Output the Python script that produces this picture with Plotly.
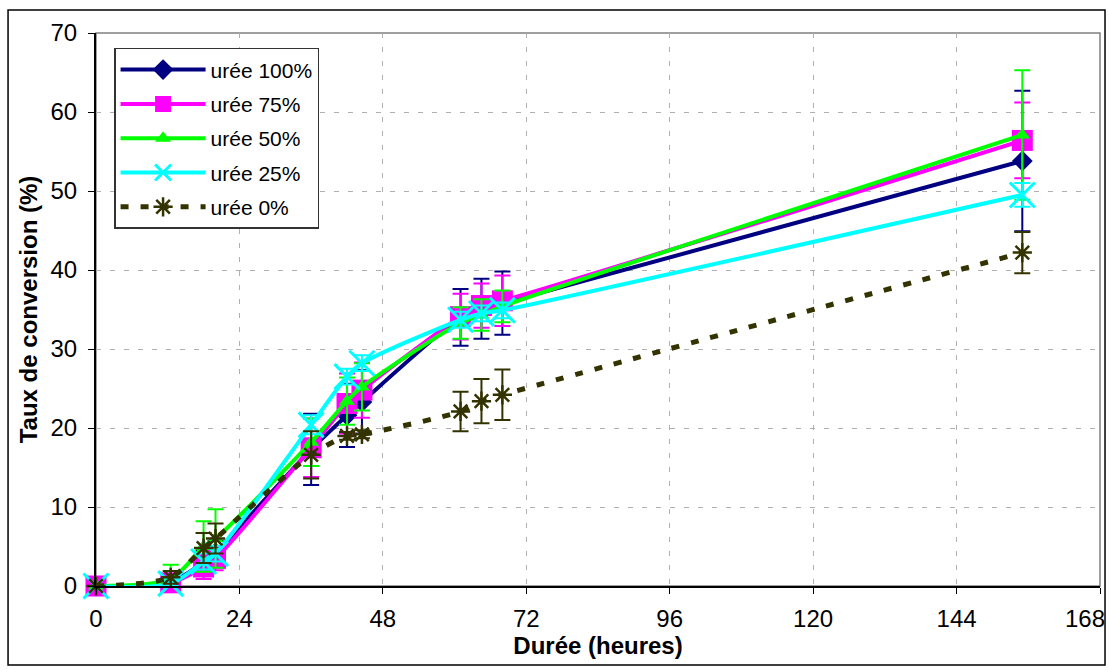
import plotly.graph_objects as go

hours = [0, 12.5, 18, 20, 36, 42, 44.5, 61, 64.5, 68, 155]

uree100 = [0, 0.5, 3.0, 4.2, 17.3, 21.6, 23.3, 34.0, 35.1, 35.8, 53.8]
err100 = [0, 0.5, 1.5, 1.5, 4.5, 4.0, 4.0, 3.6, 3.8, 4.0, 8.9]

uree75 = [0, 0.4, 2.4, 3.5, 17.5, 23.1, 24.8, 34.1, 35.5, 36.1, 56.4]
err75 = [0, 0.5, 1.5, 1.5, 3.7, 3.8, 3.5, 2.9, 2.8, 3.2, 4.8]

uree50 = [0, 0.9, 5.0, 6.0, 18.2, 23.4, 25.2, 33.3, 34.3, 35.4, 57.1]
err50 = [0, 1.8, 3.2, 3.7, 3.0, 3.0, 3.0, 2.0, 2.0, 2.0, 8.2]

uree25 = [0, 0.3, 3.1, 4.1, 20.4, 26.5, 28.2, 33.7, 34.5, 34.9, 49.5]
err25 = [0, 0.3, 1.0, 1.0, 1.2, 1.0, 1.0, 1.0, 1.0, 1.0, 1.5]

uree0 = [0, 1.1, 4.8, 6.0, 16.6, 19.0, 19.2, 22.1, 23.4, 24.2, 42.2]
err0 = [0, 0.8, 1.9, 1.9, 3.0, 0.5, 0.5, 2.5, 2.8, 3.2, 2.6]

x_ticks = [0, 24, 48, 72, 96, 120, 144, 168]
x_ticktext = ["0", "24", "48", "72", "96", "120", "144", ""]
last_x_label = "168"
y_ticks = [0, 10, 20, 30, 40, 50, 60, 70]

names = ["urée 100%", "urée 75%", "urée 50%", "urée 25%", "urée 0%"]

FONT = "Liberation Sans, Arial, sans-serif"

fig = go.Figure()

series = [
    (names[0], uree100, err100, "#000080", "diamond", 16, 0),
    (names[1], uree75, err75, "#FF00FF", "square", 21, 0),
    (names[2], uree50, err50, "#00FF00", "triangle-up", 14, 0),
    (names[3], uree25, err25, "#00FFFF", "x-thin-open", 25, 3),
]

for i, (name, vals, errs, color, sym, size, mlw) in enumerate(series):
    fig.add_trace(go.Scatter(
        x=hours, y=vals, name=name, mode="lines+markers", legendgroup=f"g{i}",
        line=dict(color=color, width=4, shape="spline", smoothing=0.8),
        marker=dict(symbol=sym, size=size, color=color,
                    line=dict(color=color, width=mlw)),
        error_y=dict(type="data", array=errs, visible=True, color=color,
                     thickness=2, width=8),
        cliponaxis=False,
    ))

olive = "#333300"
fig.add_trace(go.Scatter(
    x=hours, y=uree0, name=names[4], mode="lines+markers", legendgroup="g4",
    line=dict(color=olive, width=5, dash="8px,12px", shape="spline", smoothing=0.8),
    marker=dict(symbol="asterisk-open", size=16, color=olive,
                line=dict(color=olive, width=2.5)),
    error_y=dict(type="data", array=err0, visible=True, color=olive,
                 thickness=2, width=8),
    cliponaxis=False,
))

# last x tick label, kept inside the page like the original
fig.add_annotation(text=last_x_label, xref="paper", yref="paper",
                   x=1.007, y=-0.0585, xanchor="right", yanchor="middle",
                   showarrow=False, font=dict(family=FONT, size=24, color="black"))

# outer chart border
fig.add_shape(type="rect", xref="paper", yref="paper",
              x0=-0.0876, x1=1.005, y0=-0.1429, y1=1.0416,
              line=dict(color="black", width=1.5), layer="below")
# plot-area border (gray)
fig.add_shape(type="rect", xref="paper", yref="paper",
              x0=0, x1=1, y0=0, y1=1,
              line=dict(color="#808080", width=1.5), layer="below")

fig.update_layout(
    width=1109, height=670,
    margin=dict(l=96, r=9, t=33, b=84),
    paper_bgcolor="white", plot_bgcolor="white",
    font=dict(family=FONT, color="black", size=24),
    showlegend=True,
    legend=dict(
        x=0.018, y=0.973, xanchor="left", yanchor="top",
        bgcolor="white", bordercolor="#333333", borderwidth=1.5,
        font=dict(family=FONT, size=21, color="black"),
        itemwidth=85, tracegroupgap=4,
    ),
    xaxis=dict(
        range=[0, 168], tickvals=x_ticks, ticktext=x_ticktext,
        automargin=False,
        showgrid=True, gridcolor="#b0b0b0", griddash="5px,9px", gridwidth=1,
        showline=True, linecolor="black", linewidth=2,
        ticks="outside", ticklen=6, tickcolor="black", tickwidth=1,
        ticklabelstandoff=4,
        zeroline=False,
        tickfont=dict(family=FONT, size=24),
        title=dict(text="<b>Durée (heures)</b>", font=dict(family=FONT, size=24), standoff=2),
    ),
    yaxis=dict(
        range=[0, 70], tickvals=y_ticks, automargin=False,
        showgrid=True, gridcolor="#b0b0b0", griddash="5px,9px", gridwidth=1,
        showline=True, linecolor="black", linewidth=2,
        ticks="outside", ticklen=6, tickcolor="black", tickwidth=1,
        ticklabelstandoff=6,
        zeroline=False,
        tickfont=dict(family=FONT, size=24),
        title=dict(text="<b>Taux de conversion (%)</b>", font=dict(family=FONT, size=24), standoff=6),
    ),
)

fig.write_html("out.html")
